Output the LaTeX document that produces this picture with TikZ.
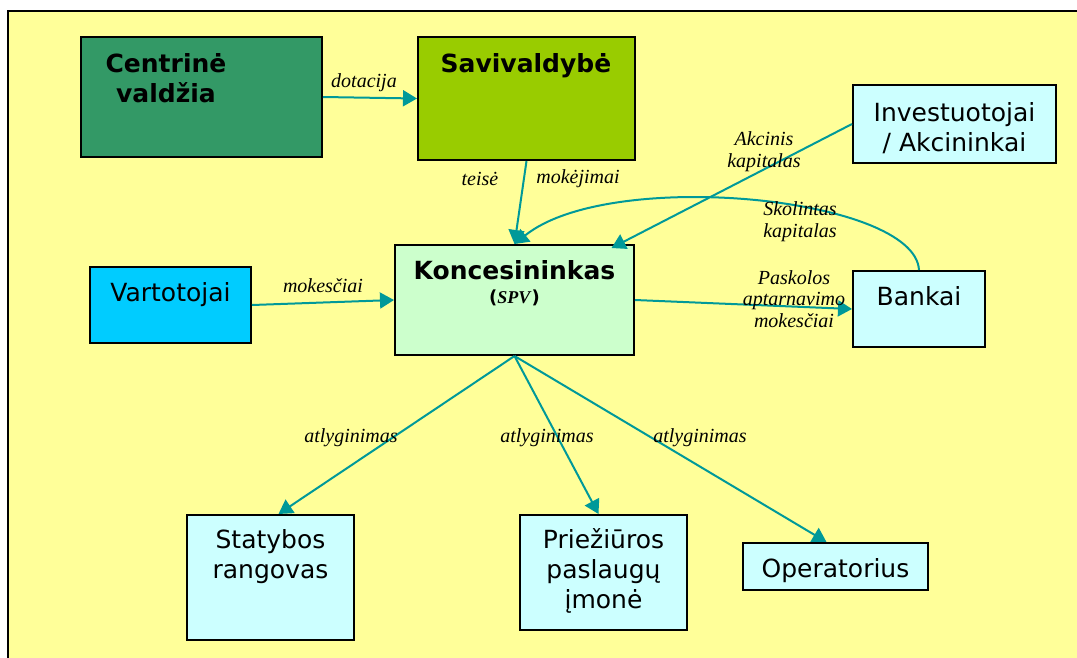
\documentclass[tikz,border=0pt]{standalone}
\usepackage{fontspec}
\setmainfont{Liberation Serif}
\newfontfamily\boxfont{DejaVu Sans}
\usetikzlibrary{arrows.meta,calc}
\definecolor{bg}{HTML}{FFFF99}
\definecolor{cvc}{HTML}{339966}
\definecolor{savc}{HTML}{99CC00}
\definecolor{varc}{HTML}{00CCFF}
\definecolor{konc}{HTML}{CCFFCC}
\definecolor{lightc}{HTML}{CCFFFF}
\definecolor{arrowc}{HTML}{009999}
\begin{document}
\begin{tikzpicture}[x=1pt,y=-1pt,
  box/.style={draw=black, line width=2pt, inner sep=0pt},
  boxtext/.style={font=\boxfont\fontsize{25}{30}\selectfont, align=center, anchor=base, inner sep=0pt},
  titletext/.style={font=\boxfont\bfseries\fontsize{25}{30}\selectfont, align=center, anchor=base, inner sep=0pt},
  lbl/.style={font=\itshape\fontsize{20}{21.5}\selectfont, align=center, anchor=base, inner sep=0pt},
  flow/.style={draw=arrowc, line width=2pt, -{Triangle[length=14pt,width=16pt]}}]
\useasboundingbox (0,0) rectangle (1077,657);
\fill[white] (0,0) rectangle (1077,657);
\draw[fill=bg, line width=2.5pt] (8,11) rectangle (1100,690);
% boxes
\node[box, fill=cvc, minimum width=241pt, minimum height=120pt] (cv) at (201.5,97) {};
\node[box, fill=savc, minimum width=217pt, minimum height=123pt] (sav) at (526.5,98.5) {};
\node[box, fill=lightc, minimum width=203pt, minimum height=78pt] (inv) at (954.5,124) {};
\node[box, fill=varc, minimum width=161pt, minimum height=76pt] (var) at (170.5,305) {};
\node[box, fill=konc, minimum width=239pt, minimum height=110pt] (kon) at (514.5,300) {};
\node[box, fill=lightc, minimum width=132pt, minimum height=76pt] (bank) at (919,309) {};
\node[box, fill=lightc, minimum width=167pt, minimum height=125pt] (stat) at (270.5,577.5) {};
\node[box, fill=lightc, minimum width=167pt, minimum height=115pt] (prie) at (603.5,572.5) {};
\node[box, fill=lightc, minimum width=185pt, minimum height=47pt] (oper) at (835.5,566.5) {};
% box texts (anchor base = baseline of last line)
\node[titletext] (cvt) at (166,102) {Centrinė\\valdžia};
\node[titletext] (savt) at (526,72) {Savivaldybė};
\node[boxtext] (invt) at (954.5,151) {Investuotojai\\/ Akcininkai};
\node[boxtext] (bankt) at (919,305) {Bankai};
\node[boxtext] (vart) at (170.5,301) {Vartotojai};
\node[titletext] (kont) at (514.5,279) {Koncesininkas};
\node[anchor=base, inner sep=0pt] (spv) at (514.5,303) {\boxfont\bfseries\fontsize{18}{20}\selectfont(\textrm{\itshape\bfseries SPV})};
\node[boxtext] (statt) at (270.5,578) {Statybos\\rangovas};
\node[boxtext] (priet) at (603.5,608) {Priežiūros\\paslaugų\\įmonė};
\node[boxtext] (opert) at (835.5,577) {Operatorius};
% connectors
\draw[flow] (cv.east) -- (sav.west);
\draw[flow] (sav.south) -- (kon.north);
\draw[flow] (inv.west) -- ($(kon.north)+(97,4)$);
\draw[flow] (bank.north) .. controls (915,197) and (610,167) .. (kon.north);
\draw[flow] (var.east) -- (kon.west);
\draw[flow] (kon.east) -- (bank.west);
\draw[flow] (kon.south) -- ($(stat.north)+(8,0)$);
\draw[flow] (kon.south) -- ($(prie.north)+(-5,0)$);
\draw[flow] (kon.south) -- ($(oper.north)+(-9,0)$);
% labels
\node[lbl] (l1) at (364,87) {dotacija};
\node[lbl] (l2) at (480,185) {teisė};
\node[lbl] (l3) at (578,183) {mokėjimai};
\node[lbl] (l4) at (764,167) {Akcinis\\kapitalas};
\node[lbl] (l5) at (800,237) {Skolintas\\kapitalas};
\node[lbl] (l6) at (794,327) {Paskolos\\aptarnavimo\\mokesčiai};
\node[lbl] (l7) at (323,292) {mokesčiai};
\node[lbl] (l8) at (351,442) {atlyginimas};
\node[lbl] (l9) at (547,442) {atlyginimas};
\node[lbl] (l10) at (700,442) {atlyginimas};
\end{tikzpicture}
\end{document}
